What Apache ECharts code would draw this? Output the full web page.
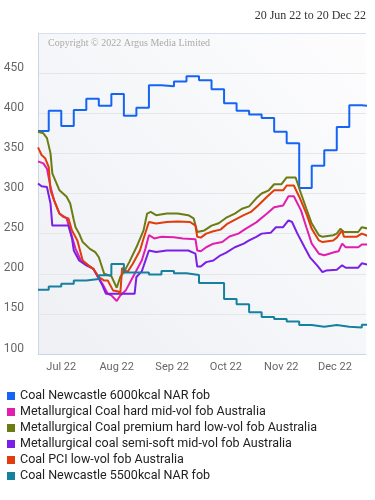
<!DOCTYPE html>
<html>
<head>
<meta charset="utf-8">
<title>Coal prices</title>
<script src="https://cdn.jsdelivr.net/npm/echarts@6.0.0/dist/echarts.min.js"></script>
<style>
  html, body { margin: 0; padding: 0; background: #fff; }
  #main { width: 375px; height: 500px; }
</style>
</head>
<body>
<div id="main"></div>
<script>
var dateRange = '20 Jun 22 to 20 Dec 22';
var copyright = 'Copyright \u00a9 2022 Argus Media Limited';
var monthNames = ['Jan', 'Feb', 'Mar', 'Apr', 'May', 'Jun', 'Jul', 'Aug', 'Sep', 'Oct', 'Nov', 'Dec'];

var seriesNames = [
  'Coal Newcastle 6000kcal NAR fob',
  'Metallurgical Coal hard mid-vol fob Australia',
  'Metallurgical Coal premium hard low-vol fob Australia',
  'Metallurgical coal semi-soft mid-vol fob Australia',
  'Coal PCI low-vol fob Australia',
  'Coal Newcastle 5500kcal NAR fob'
];
var seriesColors = ['#1565f5', '#e01fae', '#6b7d12', '#7a1fe6', '#e03c0c', '#16809f'];

// weekly (friday) assessments, drawn as steps
var newcastle6000 = [
  ['2022-06-18', 378], ['2022-06-24', 403], ['2022-07-01', 384], ['2022-07-08', 404],
  ['2022-07-15', 418], ['2022-07-22', 409.5], ['2022-07-29', 424], ['2022-08-05', 397],
  ['2022-08-12', 407], ['2022-08-19', 435], ['2022-08-26', 433.5], ['2022-09-02', 439.5],
  ['2022-09-09', 446], ['2022-09-16', 441], ['2022-09-23', 430], ['2022-09-30', 412.5],
  ['2022-10-07', 403], ['2022-10-14', 398.5], ['2022-10-21', 394], ['2022-10-28', 377],
  ['2022-11-04', 362.5], ['2022-11-11', 307], ['2022-11-18', 334.5], ['2022-11-25', 354],
  ['2022-12-02', 383], ['2022-12-09', 410], ['2022-12-16', 409], ['2022-12-20', 409]
];

var newcastle5500 = [
  ['2022-06-18', 180], ['2022-06-24', 184], ['2022-07-01', 187.5], ['2022-07-08', 191.5],
  ['2022-07-15', 193.5], ['2022-07-22', 198], ['2022-07-29', 212], ['2022-08-05', 201.5],
  ['2022-08-12', 201.5], ['2022-08-19', 199], ['2022-08-26', 203.5], ['2022-09-02', 200.5],
  ['2022-09-09', 198.5], ['2022-09-16', 188.5], ['2022-09-23', 188.5], ['2022-09-30', 168.5],
  ['2022-10-07', 162], ['2022-10-14', 152], ['2022-10-21', 146], ['2022-10-28', 143.5],
  ['2022-11-04', 140.5], ['2022-11-11', 136], ['2022-11-18', 134], ['2022-11-25', 136],
  ['2022-12-02', 134], ['2022-12-09', 133], ['2022-12-16', 136.5], ['2022-12-20', 136.5]
];

// daily assessments
var hardMidVol = [
  ['2022-06-18', 340], ['2022-06-21', 337.5], ['2022-06-23', 331], ['2022-06-25', 308],
  ['2022-06-27', 291.5], ['2022-06-30', 275], ['2022-07-04', 269], ['2022-07-06', 254],
  ['2022-07-09', 231], ['2022-07-12', 216.5], ['2022-07-15', 212.5], ['2022-07-19', 206],
  ['2022-07-21', 198], ['2022-07-24', 187.5], ['2022-07-27', 175], ['2022-07-29', 173],
  ['2022-08-01', 166], ['2022-08-03', 173], ['2022-08-06', 179], ['2022-08-09', 191.5],
  ['2022-08-12', 204], ['2022-08-15', 216.5], ['2022-08-17', 231], ['2022-08-19', 248],
  ['2022-08-22', 244], ['2022-08-26', 246], ['2022-09-02', 245.5], ['2022-09-07', 244],
  ['2022-09-14', 243], ['2022-09-15', 229], ['2022-09-17', 228], ['2022-09-20', 233],
  ['2022-09-24', 237.5], ['2022-09-29', 239.5], ['2022-10-03', 246.5], ['2022-10-08', 250],
  ['2022-10-12', 256], ['2022-10-18', 264], ['2022-10-24', 275], ['2022-10-28', 283],
  ['2022-11-02', 285], ['2022-11-05', 296.5], ['2022-11-08', 296.5], ['2022-11-12', 279],
  ['2022-11-15', 258], ['2022-11-18', 237.5], ['2022-11-22', 225], ['2022-11-25', 223],
  ['2022-12-01', 227], ['2022-12-03', 228], ['2022-12-05', 237.5], ['2022-12-07', 233],
  ['2022-12-14', 233], ['2022-12-16', 236.5], ['2022-12-20', 236.5]
];

var premiumLowVol = [
  ['2022-06-18', 377], ['2022-06-21', 375], ['2022-06-23', 369], ['2022-06-25', 350],
  ['2022-06-26', 325], ['2022-06-28', 314.5], ['2022-06-30', 304], ['2022-07-02', 300],
  ['2022-07-04', 296], ['2022-07-06', 287.5], ['2022-07-08', 267], ['2022-07-09', 258],
  ['2022-07-11', 250], ['2022-07-13', 239.5], ['2022-07-17', 231], ['2022-07-20', 227],
  ['2022-07-22', 220.5], ['2022-07-25', 200], ['2022-07-27', 198.5], ['2022-07-29', 197],
  ['2022-08-01', 182.5], ['2022-08-03', 196], ['2022-08-05', 202], ['2022-08-08', 214.5],
  ['2022-08-12', 233], ['2022-08-16', 254], ['2022-08-18', 275], ['2022-08-20', 277],
  ['2022-08-23', 273], ['2022-08-29', 275], ['2022-09-04', 275], ['2022-09-10', 273],
  ['2022-09-13', 269], ['2022-09-15', 252], ['2022-09-16', 250], ['2022-09-19', 254],
  ['2022-09-23', 260], ['2022-09-27', 263], ['2022-10-01', 269.5], ['2022-10-06', 275],
  ['2022-10-10', 281], ['2022-10-14', 284], ['2022-10-18', 294], ['2022-10-21', 300],
  ['2022-10-25', 304], ['2022-10-28', 311.5], ['2022-11-01', 311.5], ['2022-11-04', 320],
  ['2022-11-09', 320], ['2022-11-12', 300], ['2022-11-15', 281], ['2022-11-18', 262.5],
  ['2022-11-22', 248], ['2022-11-24', 246], ['2022-11-30', 248], ['2022-12-02', 250],
  ['2022-12-04', 256], ['2022-12-06', 252], ['2022-12-14', 252], ['2022-12-16', 258],
  ['2022-12-20', 256]
];

var semiSoft = [
  ['2022-06-18', 312.5], ['2022-06-20', 309], ['2022-06-23', 308], ['2022-06-25', 287.5],
  ['2022-06-26', 260], ['2022-07-05', 260], ['2022-07-07', 244], ['2022-07-08', 229],
  ['2022-07-11', 216.5], ['2022-07-15', 210.5], ['2022-07-19', 206], ['2022-07-21', 198],
  ['2022-07-24', 185.5], ['2022-07-26', 175], ['2022-08-11', 175], ['2022-08-12', 196],
  ['2022-08-15', 203], ['2022-08-19', 229], ['2022-08-23', 227], ['2022-08-29', 229],
  ['2022-09-10', 229], ['2022-09-14', 225], ['2022-09-15', 209], ['2022-09-17', 209],
  ['2022-09-20', 214.5], ['2022-09-24', 216.5], ['2022-09-28', 223], ['2022-10-01', 226],
  ['2022-10-06', 233], ['2022-10-11', 237.5], ['2022-10-14', 241.5], ['2022-10-18', 246],
  ['2022-10-21', 250], ['2022-10-26', 251], ['2022-10-29', 258], ['2022-11-02', 258],
  ['2022-11-05', 266.5], ['2022-11-07', 264.5], ['2022-11-10', 250], ['2022-11-14', 233],
  ['2022-11-17', 220.5], ['2022-11-21', 210.5], ['2022-11-24', 202], ['2022-11-26', 204],
  ['2022-12-02', 205], ['2022-12-05', 210.5], ['2022-12-07', 207.5], ['2022-12-14', 207.5],
  ['2022-12-16', 213], ['2022-12-20', 211]
];

var pciLowVol = [
  ['2022-06-18', 357.5], ['2022-06-20', 348], ['2022-06-22', 344], ['2022-06-24', 333],
  ['2022-06-25', 304], ['2022-06-27', 291.5], ['2022-06-30', 275], ['2022-07-02', 271],
  ['2022-07-05', 269], ['2022-07-07', 254], ['2022-07-10', 241.5], ['2022-07-13', 216.5],
  ['2022-07-16', 210.5], ['2022-07-19', 206], ['2022-07-22', 196], ['2022-07-25', 191.5],
  ['2022-07-27', 191.5], ['2022-07-30', 179], ['2022-08-02', 178], ['2022-08-03', 175],
  ['2022-08-04', 207], ['2022-08-07', 202], ['2022-08-10', 212.5], ['2022-08-14', 229],
  ['2022-08-16', 244], ['2022-08-19', 264.5], ['2022-08-23', 262.5], ['2022-08-29', 264.5],
  ['2022-09-04', 265], ['2022-09-11', 264.5], ['2022-09-14', 260], ['2022-09-15', 246],
  ['2022-09-17', 245], ['2022-09-20', 250], ['2022-09-24', 253], ['2022-09-28', 255],
  ['2022-10-02', 262.5], ['2022-10-07', 268.5], ['2022-10-11', 273], ['2022-10-15', 277],
  ['2022-10-19', 285], ['2022-10-24', 296], ['2022-10-28', 304], ['2022-11-02', 304],
  ['2022-11-04', 310], ['2022-11-08', 310], ['2022-11-11', 296], ['2022-11-15', 275],
  ['2022-11-18', 256], ['2022-11-22', 241.5], ['2022-11-24', 239.5], ['2022-11-30', 241.5],
  ['2022-12-02', 245], ['2022-12-05', 254], ['2022-12-06', 246], ['2022-12-13', 246],
  ['2022-12-16', 250], ['2022-12-20', 246.5]
];

// x extent: the plot is clipped a little before 20 Dec
var xMin = new Date(2022, 5, 18).getTime();
var xMax = new Date(2022, 11, 18, 8).getTime();

var labelFont = 'Roboto';

function makeLine(i, data, step) {
  return {
    name: seriesNames[i],
    type: 'line',
    data: data,
    step: step ? 'end' : false,
    symbol: 'none',
    lineStyle: { width: 2, color: seriesColors[i] },
    itemStyle: { color: seriesColors[i] },
    emphasis: { disabled: true }
  };
}

var chart = echarts.init(document.getElementById('main'));

var option = {
  animation: false,
  title: [{
    text: dateRange,
    right: 9,
    top: 10,
    padding: 0,
    textStyle: { fontFamily: 'Liberation Serif', fontSize: 12, fontWeight: 'normal', color: '#333' }
  }, {
    text: copyright,
    left: 48,
    top: 38,
    padding: 0,
    textStyle: { fontFamily: 'Liberation Serif', fontSize: 10, fontWeight: 'normal', color: '#aaa' }
  }],
  legend: {
    orient: 'vertical',
    left: 7,
    top: 388,
    padding: 0,
    itemGap: 0,
    itemWidth: 8,
    itemHeight: 8,
    icon: 'rect',
    data: seriesNames,
    textStyle: { fontFamily: labelFont, fontSize: 12.5, color: '#222', lineHeight: 16 }
  },
  grid: {
    left: 38,
    right: 9,
    top: 33,
    bottom: 146,
    show: true,
    borderWidth: 0,
    backgroundColor: new echarts.graphic.LinearGradient(0, 1, 1, 0, [
      { offset: 0, color: '#eef0f4' },
      { offset: 1, color: '#fdfdfe' }
    ])
  },
  xAxis: {
    type: 'time',
    min: xMin,
    max: xMax,
    splitNumber: 6,
    axisLine: { show: true, lineStyle: { color: '#ccd6eb' } },
    axisTick: { show: false },
    splitLine: { show: false },
    axisLabel: {
      showMinLabel: false,
      showMaxLabel: false,
      margin: 8,
      fontFamily: labelFont,
      fontSize: 11,
      color: '#666',
      formatter: function (v) {
        var d = new Date(v);
        return monthNames[d.getMonth()] + ' ' + String(d.getFullYear()).slice(2);
      }
    }
  },
  yAxis: {
    type: 'value',
    min: 100,
    max: 500,
    interval: 50,
    axisLine: { show: true, lineStyle: { color: '#ccd6eb' } },
    axisTick: { show: false },
    splitLine: {
      lineStyle: {
        color: ['#ccd6eb', '#e6e6e6', '#e6e6e6', '#e6e6e6', '#e6e6e6', '#e6e6e6', '#e6e6e6', '#e6e6e6', '#d8dfec']
      }
    },
    axisLabel: {
      showMaxLabel: false,
      margin: 14,
      verticalAlign: 'bottom',
      lineHeight: 11,
      fontFamily: labelFont,
      fontSize: 12,
      color: '#666'
    }
  },
  series: [
    makeLine(0, newcastle6000, true),
    makeLine(1, hardMidVol),
    makeLine(2, premiumLowVol),
    makeLine(3, semiSoft),
    makeLine(4, pciLowVol),
    makeLine(5, newcastle5500, true)
  ]
};

chart.setOption(option);
</script>
</body>
</html>
